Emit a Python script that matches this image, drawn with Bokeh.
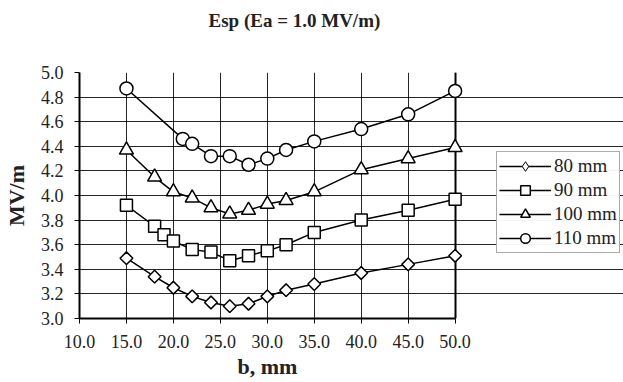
from bokeh.plotting import figure
from bokeh.models import Legend, LegendItem, Range1d, FixedTicker, PrintfTickFormatter, Grid, Title
from bokeh.embed import file_html
from bokeh.resources import INLINE

title_text = "Esp (Ea = 1.0 MV/m)"
x_label = "b, mm"
y_label = "MV/m"

x80 = [15, 18, 20, 22, 24, 26, 28, 30, 32, 35, 40, 45, 50]
y80 = [3.49, 3.34, 3.25, 3.18, 3.13, 3.10, 3.12, 3.18, 3.23, 3.28, 3.37, 3.44, 3.51]
x90 = [15, 18, 19, 20, 22, 24, 26, 28, 30, 32, 35, 40, 45, 50]
y90 = [3.92, 3.75, 3.68, 3.63, 3.56, 3.54, 3.47, 3.51, 3.55, 3.60, 3.70, 3.80, 3.88, 3.97]
x100 = [15, 18, 20, 22, 24, 26, 28, 30, 32, 35, 40, 45, 50]
y100 = [4.37, 4.15, 4.03, 3.98, 3.90, 3.85, 3.88, 3.93, 3.96, 4.03, 4.21, 4.30, 4.39]
x110 = [15, 21, 22, 24, 26, 28, 30, 32, 35, 40, 45, 50]
y110 = [4.87, 4.46, 4.42, 4.32, 4.32, 4.25, 4.30, 4.37, 4.44, 4.54, 4.66, 4.85]

series_names = ["80 mm", "90 mm", "100 mm", "110 mm"]
x_ticks = [10, 15, 20, 25, 30, 35, 40, 45, 50]
y_ticks = [3.0, 3.2, 3.4, 3.6, 3.8, 4.0, 4.2, 4.4, 4.6, 4.8, 5.0]
x_min, x_max = 10, 50
y_min, y_max = 3.0, 5.0

FONT = "Liberation Serif"
W, H = 623, 382
LEFT, TOP, BOTTOM, RIGHT = 77, 72, 64, 0
# extend the x range beyond 50 so the frame can host the legend and markers at x=50 are not clipped
px_per_unit = 377 / (x_max - x_min)
x_end = x_min + (W - LEFT - RIGHT) / px_per_unit

p = figure(width=W, height=H, output_backend="svg", toolbar_location=None,
           x_range=Range1d(x_min, x_end), y_range=Range1d(y_min, y_max),
           min_border_left=LEFT, min_border_right=RIGHT, min_border_top=TOP,
           min_border_bottom=BOTTOM)

# the two trailing empty lines push the title up, away from the plot frame
p.title.text = title_text + "\n\n"
p.title.align = "left"
p.title.offset = 129
p.title.standoff = 0
p.title.text_font = FONT
p.title.text_font_size = "19px"
p.title.text_font_style = "bold"
p.title.text_color = "#222222"

p.outline_line_color = None
p.background_fill_color = "white"
p.border_fill_color = "white"

for ax in (p.xaxis[0], p.yaxis[0]):
    ax.axis_line_width = 2
    ax.axis_line_color = "black"
    ax.major_tick_line_color = "black"
    ax.major_tick_line_width = 1
    ax.major_tick_out = 5
    ax.major_tick_in = 0
    ax.minor_tick_line_color = None
    ax.major_label_text_font = FONT
    ax.major_label_text_font_size = "18px"
    ax.major_label_text_color = "#222222"
    ax.axis_label_text_font = FONT
    ax.axis_label_text_font_size = "22px"
    ax.axis_label_text_font_style = "bold"
    ax.axis_label_text_color = "#222222"

p.xaxis.bounds = (x_min, x_max)
p.xaxis.ticker = FixedTicker(ticks=x_ticks)
p.yaxis.ticker = FixedTicker(ticks=y_ticks)
p.xaxis.formatter = PrintfTickFormatter(format="%.1f")
p.yaxis.formatter = PrintfTickFormatter(format="%.1f")
p.yaxis.axis_label = y_label
p.xaxis.major_label_standoff = 11
p.yaxis.major_label_standoff = 11
p.yaxis.axis_label_standoff = 9

# x-axis title centred under the data region (not the whole frame)
xt = Title(text=x_label, align="left", offset=158, standoff=3,
           text_font=FONT, text_font_size="22px", text_font_style="bold",
           text_color="#222222")
p.add_layout(xt, "below")

p.xgrid.ticker = FixedTicker(ticks=x_ticks)
p.ygrid.ticker = FixedTicker(ticks=y_ticks)
p.ygrid.bounds = (x_min, x_max)
p.grid.grid_line_color = "black"
p.grid.grid_line_width = 1
p.grid.grid_line_alpha = 0.85

# frame right and top edges (thicker), limited to the data region
p.add_layout(Grid(dimension=0, ticker=FixedTicker(ticks=[x_max]),
                  grid_line_color="black", grid_line_width=2))
p.add_layout(Grid(dimension=1, ticker=FixedTicker(ticks=[y_max]), bounds=(x_min, x_max),
                  grid_line_color="black", grid_line_width=2))

markers = ["square", "square", "triangle", "circle"]
legend_markers = ["diamond", "square", "triangle", "circle"]
angles = [0.785398, 0, 0, 0]
sizes = [9, 12, 14, 13]
xs = [x80, x90, x100, x110]
ys = [y80, y90, y100, y110]

items = []
for name, xv, yv, m, lm, a, s in zip(series_names, xs, ys, markers, legend_markers, angles, sizes):
    lr = p.line(xv, yv, line_color="black", line_width=1.5)
    key_r = None
    if lm != m:
        # diamond glyph for the legend key; fully covered by the rotated squares on the chart
        key_r = p.scatter(xv, yv, marker=lm, size=12, fill_color="white",
                          line_color="black", line_width=1.0)
    sr = p.scatter(xv, yv, marker=m, angle=a, size=s, fill_color="white",
                   line_color="black", line_width=1.5)
    items.append(LegendItem(label=name, renderers=[lr, key_r if key_r is not None else sr]))

legend = Legend(items=items, location=(417, 65))
legend.border_line_color = "#555555"
legend.border_line_width = 1
legend.label_text_font = FONT
legend.label_text_font_size = "19px"
legend.label_text_color = "#222222"
legend.glyph_width = 52
legend.glyph_height = 24
legend.label_height = 24
legend.label_standoff = 3
legend.spacing = 0
legend.padding = 2
legend.margin = 0
legend.background_fill_color = "white"
p.add_layout(legend)

open("out.html", "w").write(file_html(p, INLINE))
